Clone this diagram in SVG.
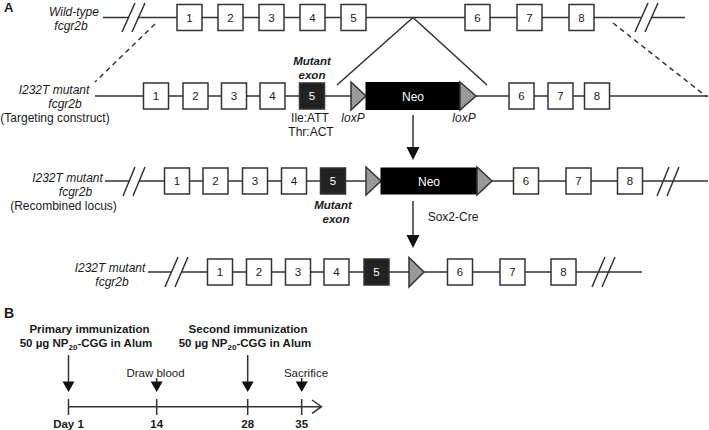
<svg xmlns="http://www.w3.org/2000/svg" width="709" height="430" viewBox="0 0 709 430">
<style>
text{font-family:"Liberation Sans",Arial,sans-serif;fill:#1a1a1a}
.ln{stroke:#333;stroke-width:1.5;fill:none}
.ex{fill:#fff;stroke:#333;stroke-width:1.5}
.mx{fill:#222;stroke:#333;stroke-width:1.5}
.neo{fill:#000;stroke:#000;stroke-width:1}
.lox{fill:#999;stroke:#333;stroke-width:1.5}
.num{font-size:11.5px;text-anchor:middle}
.wnum{font-size:11.5px;text-anchor:middle;fill:#fff}
.lab{font-size:12px;text-anchor:middle}
.it{font-style:italic}
.bi{font-style:italic;font-weight:bold;font-size:11.5px;text-anchor:middle}
.bd{font-weight:bold;font-size:11.5px;text-anchor:middle}
.dash{stroke:#333;stroke-width:1.5;stroke-dasharray:5,4;fill:none}
.ah{fill:#111;stroke:none}
</style>
<defs>
<g id="ex"><rect class="ex" x="0" y="0" width="25" height="26"/></g>
</defs>

<text x="4" y="12" style="font-weight:bold;font-size:13px">A</text>
<text x="4" y="318" style="font-weight:bold;font-size:14px">B</text>

<g id="connectors">
  <!-- row 1 -->
  <path class="ln" d="M103,17.5H128.5M138.5,17.5H177M202,17.5H218M243,17.5H259M284,17.5H300M325,17.5H341M366,17.5H465M490,17.5H517M542,17.5H569M594,17.5H641.5M651.5,17.5H685"/>
  <path class="ln" d="M122,32L135,3M132,32L145,3M635,32L648,3M645,32L658,3"/>
  <path class="ln" d="M337,85L413,17.5L487,85"/>
  <path class="dash" d="M155,24L95,82M613,23L707,97"/>
  <!-- row 2 -->
  <path class="ln" d="M95,96H708"/>
  <!-- row 3 -->
  <path class="ln" d="M105,181H129M139,181H708"/>
  <path class="ln" d="M123,196L135,167M133,196L145,167M657,196L669,167M667,196L679,167"/>
  <!-- row 4 -->
  <path class="ln" d="M148,272H171.5M181.5,272H642"/>
  <path class="ln" d="M165,287L178,257M175,287L188,257M592,287L605,257M602,287L615,257"/>
  <!-- arrows between rows -->
  <path class="ln" d="M413,115V148"/>
  <polygon class="ah" points="406.5,147 419.5,147 413,160"/>
  <path class="ln" d="M413,201V236"/>
  <polygon class="ah" points="406.5,235 419.5,235 413,248"/>
  <!-- panel B timeline -->
  <path class="ln" d="M68.5,406.7H321.5M312,400L321.5,406.7L312,413.4"/>
  <path class="ln" d="M68.5,399V415M156.7,399V415M247.7,399V415M301.7,399V415"/>
  <path class="ln" d="M68.5,355V383M156.7,378V383M247.7,355V383M301.7,378V383"/>
  <polygon class="ah" points="62.5,381.5 74.5,381.5 68.5,392"/>
  <polygon class="ah" points="150.7,381.5 162.7,381.5 156.7,392"/>
  <polygon class="ah" points="241.7,381.5 253.7,381.5 247.7,392"/>
  <polygon class="ah" points="295.7,381.5 307.7,381.5 301.7,392"/>
</g>

<!-- Row 1: wild-type -->
<g id="label-wt">
  <text class="lab it" x="74" y="15.5">Wild-type</text>
  <text class="lab it" x="71" y="29.5">fcgr2b</text>
</g>
<g id="wt-e1"><use href="#ex" x="177" y="4.5"/><text class="num" x="189.5" y="21.5">1</text></g>
<g id="wt-e2"><use href="#ex" x="218" y="4.5"/><text class="num" x="230.5" y="21.5">2</text></g>
<g id="wt-e3"><use href="#ex" x="259" y="4.5"/><text class="num" x="271.5" y="21.5">3</text></g>
<g id="wt-e4"><use href="#ex" x="300" y="4.5"/><text class="num" x="312.5" y="21.5">4</text></g>
<g id="wt-e5"><use href="#ex" x="341" y="4.5"/><text class="num" x="353.5" y="21.5">5</text></g>
<g id="wt-e6"><use href="#ex" x="465" y="4.5"/><text class="num" x="477.5" y="21.5">6</text></g>
<g id="wt-e7"><use href="#ex" x="517" y="4.5"/><text class="num" x="529.5" y="21.5">7</text></g>
<g id="wt-e8"><use href="#ex" x="569" y="4.5"/><text class="num" x="581.5" y="21.5">8</text></g>

<!-- Row 2: targeting construct -->
<g id="label-tc">
  <text class="lab it" x="54" y="94">I232T mutant</text>
  <text class="lab it" x="65" y="108">fcgr2b</text>
  <text class="lab" x="55" y="122">(Targeting construct)</text>
</g>
<g id="tc-e1"><use href="#ex" x="143.5" y="83"/><text class="num" x="156" y="100">1</text></g>
<g id="tc-e2"><use href="#ex" x="183" y="83"/><text class="num" x="195.5" y="100">2</text></g>
<g id="tc-e3"><use href="#ex" x="221.5" y="83"/><text class="num" x="234" y="100">3</text></g>
<g id="tc-e4"><use href="#ex" x="260" y="83"/><text class="num" x="272.5" y="100">4</text></g>
<g id="tc-e5">
  <rect class="mx" x="299.5" y="83" width="25" height="26"/><text class="wnum" x="312" y="100">5</text>
  <text class="bi" x="312" y="65">Mutant</text>
  <text class="bi" x="312" y="79">exon</text>
  <text class="lab" x="310" y="122">Ile:ATT</text>
  <text class="lab" x="311" y="136">Thr:ACT</text>
</g>
<g id="tc-lox1"><polygon class="lox" points="351,82 366,96 351,110"/><text class="lab it" x="353" y="122">loxP</text></g>
<g id="tc-neo"><rect class="neo" x="366" y="82.5" width="94" height="27"/><text class="lab" x="413" y="100.5" style="fill:#fff">Neo</text></g>
<g id="tc-lox2"><polygon class="lox" points="460,82 476,96 460,110"/><text class="lab it" x="464" y="122">loxP</text></g>
<g id="tc-e6"><use href="#ex" x="509" y="83"/><text class="num" x="521.5" y="100">6</text></g>
<g id="tc-e7"><use href="#ex" x="548" y="83"/><text class="num" x="560.5" y="100">7</text></g>
<g id="tc-e8"><use href="#ex" x="584.5" y="83"/><text class="num" x="597" y="100">8</text></g>

<!-- Row 3: recombined locus -->
<g id="label-rl">
  <text class="lab it" x="67.5" y="182">I232T mutant</text>
  <text class="lab it" x="75.5" y="196">fcgr2b</text>
  <text class="lab" x="63.5" y="210">(Recombined locus)</text>
</g>
<g id="rl-e1"><use href="#ex" x="164.5" y="168"/><text class="num" x="177" y="185">1</text></g>
<g id="rl-e2"><use href="#ex" x="203" y="168"/><text class="num" x="215.5" y="185">2</text></g>
<g id="rl-e3"><use href="#ex" x="242.5" y="168"/><text class="num" x="255" y="185">3</text></g>
<g id="rl-e4"><use href="#ex" x="281.5" y="168"/><text class="num" x="294" y="185">4</text></g>
<g id="rl-e5">
  <rect class="mx" x="320.5" y="168" width="25" height="26"/><text class="wnum" x="333" y="185">5</text>
  <text class="bi" x="333" y="209">Mutant</text>
  <text class="bi" x="336" y="223">exon</text>
</g>
<g id="rl-lox1"><polygon class="lox" points="366,167 381,181 366,195"/></g>
<g id="rl-neo"><rect class="neo" x="381" y="168" width="96" height="26"/><text class="lab" x="429" y="185.5" style="fill:#fff">Neo</text></g>
<g id="rl-lox2"><polygon class="lox" points="477,167 492,181 477,195"/></g>
<g id="rl-e6"><use href="#ex" x="513.5" y="168"/><text class="num" x="526" y="185">6</text></g>
<g id="rl-e7"><use href="#ex" x="566" y="168"/><text class="num" x="578.5" y="185">7</text></g>
<g id="rl-e8"><use href="#ex" x="617.5" y="168"/><text class="num" x="630" y="185">8</text></g>
<text class="lab" x="453" y="221">Sox2-Cre</text>

<!-- Row 4: final allele -->
<g id="label-fa">
  <text class="lab it" x="110" y="272">I232T mutant</text>
  <text class="lab it" x="112" y="286">fcgr2b</text>
</g>
<g id="fa-e1"><use href="#ex" x="207.5" y="259"/><text class="num" x="220" y="276">1</text></g>
<g id="fa-e2"><use href="#ex" x="246.5" y="259"/><text class="num" x="259" y="276">2</text></g>
<g id="fa-e3"><use href="#ex" x="285.5" y="259"/><text class="num" x="298" y="276">3</text></g>
<g id="fa-e4"><use href="#ex" x="324" y="259"/><text class="num" x="336.5" y="276">4</text></g>
<g id="fa-e5"><rect class="mx" x="364" y="259" width="25" height="26"/><text class="wnum" x="376.5" y="276">5</text></g>
<g id="fa-lox"><polygon class="lox" points="409,257.5 424,272 409,287"/></g>
<g id="fa-e6"><use href="#ex" x="447.5" y="259"/><text class="num" x="460" y="276">6</text></g>
<g id="fa-e7"><use href="#ex" x="500" y="259"/><text class="num" x="512.5" y="276">7</text></g>
<g id="fa-e8"><use href="#ex" x="551" y="259"/><text class="num" x="563.5" y="276">8</text></g>

<!-- Panel B -->
<g id="b-primary">
  <text class="bd" x="89.5" y="333">Primary immunization</text>
  <text class="bd" x="86" y="347">50 µg NP<tspan font-size="8" dy="3">20</tspan><tspan dy="-3">-CGG in Alum</tspan></text>
</g>
<g id="b-second">
  <text class="bd" x="248" y="333">Second immunization</text>
  <text class="bd" x="245" y="347">50 µg NP<tspan font-size="8" dy="3">20</tspan><tspan dy="-3">-CGG in Alum</tspan></text>
</g>
<g id="b-blood"><text class="lab" x="155.5" y="377" style="font-size:11.5px">Draw blood</text></g>
<g id="b-sac"><text class="lab" x="306" y="377" style="font-size:11.5px">Sacrifice</text></g>
<g id="b-days">
  <text class="bd" x="68.5" y="428">Day 1</text>
  <text class="bd" x="156.7" y="428">14</text>
  <text class="bd" x="247.7" y="428">28</text>
  <text class="bd" x="301.7" y="428">35</text>
</g>
</svg>
